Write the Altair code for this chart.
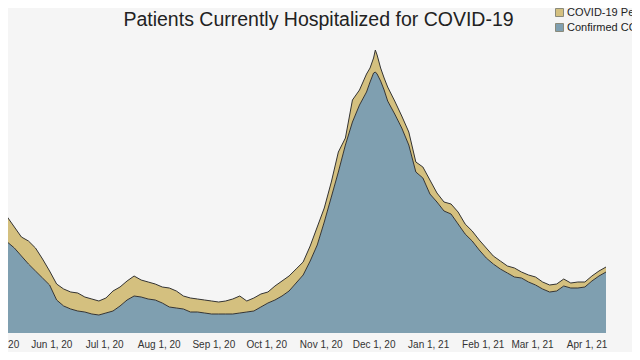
import altair as alt
import pandas as pd

dates = [
    "2020-05-03", "2020-05-07", "2020-05-11", "2020-05-15", "2020-05-19", "2020-05-23",
    "2020-05-27", "2020-05-31", "2020-06-04", "2020-06-08", "2020-06-12", "2020-06-16",
    "2020-06-20", "2020-06-24", "2020-06-28", "2020-07-02", "2020-07-06", "2020-07-10",
    "2020-07-14", "2020-07-18", "2020-07-22", "2020-07-26", "2020-07-30", "2020-08-03",
    "2020-08-07", "2020-08-11", "2020-08-15", "2020-08-19", "2020-08-23", "2020-08-27",
    "2020-08-31", "2020-09-04", "2020-09-08", "2020-09-12", "2020-09-16", "2020-09-20",
    "2020-09-24", "2020-09-28", "2020-10-02", "2020-10-06", "2020-10-10", "2020-10-14",
    "2020-10-18", "2020-10-22", "2020-10-26", "2020-10-30", "2020-11-03", "2020-11-07",
    "2020-11-11", "2020-11-15", "2020-11-19", "2020-11-23", "2020-11-27", "2020-11-29",
    "2020-12-01", "2020-12-02", "2020-12-03", "2020-12-05", "2020-12-07", "2020-12-09",
    "2020-12-13", "2020-12-17", "2020-12-21", "2020-12-25", "2020-12-29", "2021-01-02",
    "2021-01-06", "2021-01-10", "2021-01-14", "2021-01-18", "2021-01-22", "2021-01-26",
    "2021-01-30", "2021-02-03", "2021-02-07", "2021-02-11", "2021-02-15", "2021-02-19",
    "2021-02-23", "2021-02-27", "2021-03-03", "2021-03-07", "2021-03-11", "2021-03-15",
    "2021-03-19", "2021-03-23", "2021-03-27", "2021-03-31", "2021-04-04", "2021-04-08",
    "2021-04-12",
]

confirmed = [
    2060, 1820, 1700, 1540, 1380, 1240, 1100, 960, 660, 540, 480, 440,
    420, 380, 360, 400, 440, 540, 660, 740, 720, 680, 660, 600,
    520, 500, 480, 420, 420, 400, 380, 380, 380, 380, 400, 420,
    440, 520, 600, 660, 740, 840, 1000, 1160, 1440, 1760, 2220, 2720,
    3220, 3760, 4220, 4560, 4820, 5020, 5200, 5220, 5180, 5040, 4860, 4640,
    4380, 4100, 3760, 3220, 3100, 2780, 2620, 2440, 2380, 2180, 1980, 1840,
    1660, 1500, 1380, 1280, 1200, 1120, 1100, 1020, 960, 880, 820, 840,
    940, 900, 900, 920, 1040, 1140, 1220,
]

pui = [
    460, 500, 420, 380, 460, 460, 380, 280, 320, 340, 340, 360,
    300, 300, 280, 300, 400, 380, 380, 400, 340, 340, 320, 320,
    380, 340, 260, 280, 260, 260, 260, 240, 260, 300, 340, 220,
    260, 260, 220, 280, 300, 300, 280, 260, 300, 360, 280, 300,
    400, 140, 440, 300, 360, 280, 300, 440, 380, 260, 240, 280,
    260, 240, 260, 200, 220, 280, 180, 180, 200, 240, 200, 200,
    200, 200, 160, 160, 140, 180, 120, 140, 160, 140, 140, 140,
    140, 100, 120, 100, 100, 100, 100,
]

series_names = ["COVID-19 Persons Under Investigation", "Confirmed COVID-19"]
series_colors = ["#d4c07f", "#7f9fb0"]

tick_months = [(2020, m) for m in range(5, 13)] + [(2021, m) for m in range(1, 5)]

dt = [d + "T00:00:00" for d in dates]
wide = pd.DataFrame({"date": dt, "confirmed": confirmed, "pui": pui})
wide["total"] = wide["confirmed"] + wide["pui"]
long = pd.concat([
    pd.DataFrame({"date": dt, "series": series_names[1], "value": confirmed, "ord": 0}),
    pd.DataFrame({"date": dt, "series": series_names[0], "value": pui, "ord": 1}),
], ignore_index=True)

FONT = "Liberation Sans"

xenc = alt.X(
    "date:T",
    scale=alt.Scale(
        domain=[alt.DateTime(year=2020, month=4, date=30), alt.DateTime(year=2021, month=4, date=12)],
        nice=False,
    ),
    axis=alt.Axis(
        values=[alt.DateTime(year=y, month=m, date=1) for y, m in tick_months],
        format="%b %-d, %y", title=None, domain=False, ticks=False, tickSize=0,
        grid=False, labelFlush=False, labelOverlap=False, labelPadding=6,
        labelFont=FONT, labelFontSize=10, labelColor="#333333",
    ),
)
yscale = alt.Scale(domain=[0, 5860], nice=False, zero=True)

areas = alt.Chart(long).mark_area(opacity=1).encode(
    x=xenc,
    y=alt.Y("value:Q", stack="zero", scale=yscale, axis=None),
    color=alt.Color(
        "series:N",
        scale=alt.Scale(domain=series_names, range=series_colors),
        legend=alt.Legend(
            title=None, orient="none", legendX=559, legendY=-33,
            symbolType="square", symbolSize=64, symbolStrokeColor="#8a8a7a",
            symbolStrokeWidth=1, labelFont=FONT, labelFontSize=11,
            labelColor="#222222", labelOffset=2, rowPadding=2, padding=0,
            labelLimit=0,
        ),
    ),
    order=alt.Order("ord:Q", sort="ascending"),
)

line_conf = alt.Chart(wide).mark_line(color="#333333", strokeWidth=1).encode(
    x=xenc, y=alt.Y("confirmed:Q", scale=yscale, axis=None)
)
line_total = alt.Chart(wide).mark_line(color="#333333", strokeWidth=1).encode(
    x=xenc, y=alt.Y("total:Q", scale=yscale, axis=None)
)

chart = alt.layer(areas, line_conf, line_total).properties(
    width=611,
    height=293,
    title=alt.TitleParams(
        "Patients Currently Hospitalized for COVID-19",
        font=FONT, fontSize=19.5, fontWeight="normal", color="#222222",
        anchor="middle", baseline="alphabetic", offset=0, dx=18, dy=38,
    ),
    padding={"left": -13, "top": 32, "right": 26, "bottom": 19},
    autosize=alt.AutoSizeParams(type="none"),
    background="#f5f5f5",
).configure_view(stroke=None)

chart.save("out.html", embed_options={"renderer": "svg", "actions": False})
